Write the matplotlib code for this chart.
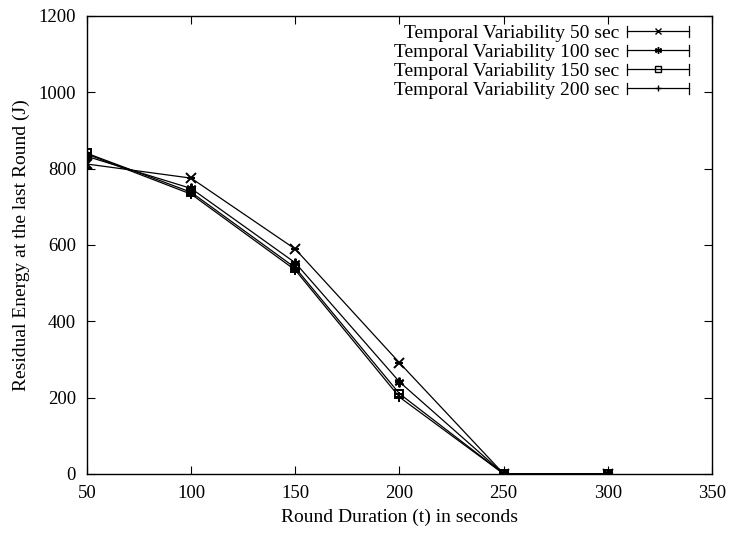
import matplotlib.pyplot as plt
import numpy as np
import matplotlib.lines as mlines
from matplotlib.legend_handler import HandlerLine2D

plt.rcParams["font.family"] = ["Liberation Serif", "DejaVu Serif"]

round_dur = [50, 100, 150, 200, 250, 300]
tv50 = [812, 775, 589, 291, 0, 0]
tv100 = [832, 748, 553, 241, 0, 0]
tv150 = [840, 738, 540, 210, 0, 0]
tv200 = [838, 733, 534, 201, 0, 0]
err50 = [10, 0, 0, 0, 0, 0]
err_other = [0, 0, 0, 0, 0, 0]

labels = ["Temporal Variability 50 sec", "Temporal Variability 100 sec",
          "Temporal Variability 150 sec", "Temporal Variability 200 sec"]
series = [tv50, tv100, tv150, tv200]
errs = [err50, err_other, err_other, err_other]
markers = ["x", (6, 2, 0), "s", "+"]
msizes = [7, 7, 6, 7]


class HandlerCaps(HandlerLine2D):
    # gnuplot style errorbar key: line with little caps at both ends
    def create_artists(self, legend, orig, xd, yd, w, h, fs, trans):
        arts = super().create_artists(legend, orig, xd, yd, w, h, fs, trans)
        y = h / 2 - yd
        for x in (-xd, -xd + w):
            cap = mlines.Line2D([x, x], [y - 4, y + 4], color="k", lw=0.9)
            cap.set_transform(trans)
            arts.append(cap)
        return arts


fig = plt.figure(figsize=(7.31, 5.33), dpi=100)
ax = fig.add_axes([0.119, 0.111, 0.855, 0.859])

handles = []
for ys, e, m, ms, lab in zip(series, errs, markers, msizes, labels):
    fill = "none" if m == "s" else "k"
    ax.errorbar(round_dur, ys, yerr=e, color="k", lw=0.9, elinewidth=0.9,
                capsize=3, capthick=0.9, marker=m, ms=ms, mfc=fill, mec="k", mew=1.4)
    handles.append(mlines.Line2D([], [], color="k", lw=0.9, marker=m, ms=ms - 2,
                                 mfc=fill, mec="k", mew=1.0, label=lab))

ax.set_xlim(50, 350)
ax.set_ylim(0, 1200)
ax.set_xticks(np.arange(50, 351, 50))
ax.set_yticks(np.arange(0, 1201, 200))
ax.tick_params(direction="in", top=True, right=True, labelsize=13.5, length=6, pad=8)
ax.set_xlabel("Round Duration (t) in seconds", fontsize=14, labelpad=5)
ax.set_ylabel("Residual Energy at the last Round (J)", fontsize=14, labelpad=6)
for s in ax.spines.values():
    s.set_linewidth(1.0)

ax.legend(handles=handles, loc="upper right", bbox_to_anchor=(0.995, 1.024),
          frameon=False, markerfirst=False,
          fontsize=14, handlelength=3.2, handletextpad=0.4, labelspacing=0.07,
          borderaxespad=0.6, handler_map={mlines.Line2D: HandlerCaps()})
for t in ax.get_legend().get_texts():
    t.set_ha("right")

fig.savefig("out.png", dpi=100)
